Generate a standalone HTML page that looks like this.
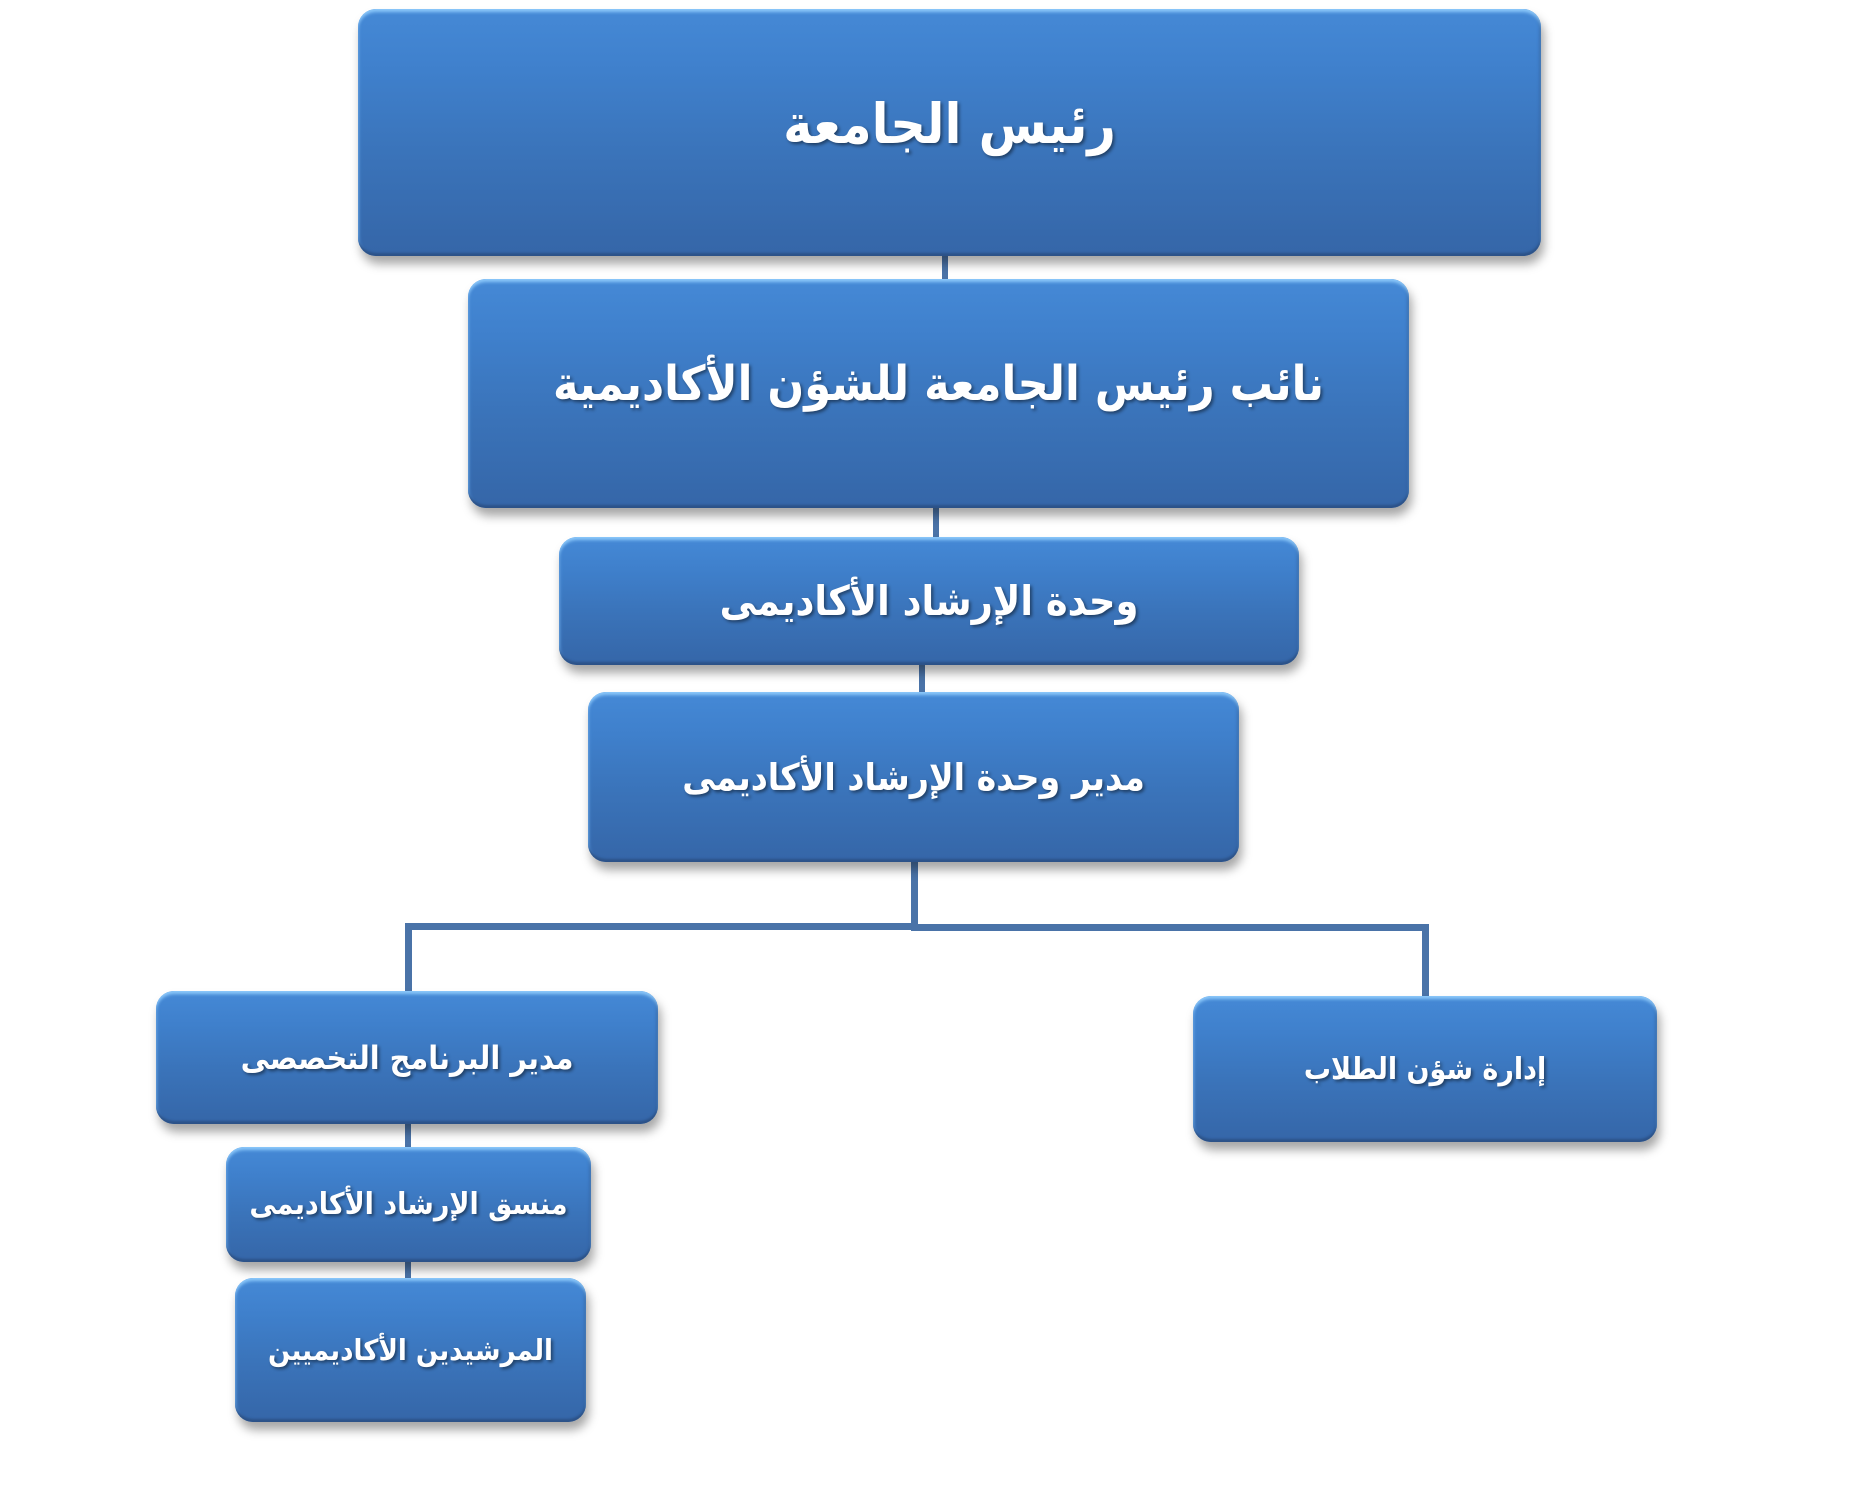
<!DOCTYPE html>
<html><head><meta charset="utf-8"><style>
body{margin:0;width:1861px;height:1510px;background:#fff;position:relative;overflow:hidden;font-family:"DejaVu Sans Condensed","DejaVu Sans","Liberation Sans",sans-serif}
.b{position:absolute;box-sizing:border-box;border-radius:18px;background:linear-gradient(#4589d6 0%,#3f80cc 25%,#3a73b9 60%,#3566a8 100%);
box-shadow:inset 0 4px 3px -1px #8cc8fa,inset 0 -4px 2px -1px #2c5288,inset 3px 0 3px -2px #5c9be0,inset -3px 0 3px -2px #2f5c98,3px 8px 10px rgba(0,0,0,.35);
color:#fff;font-weight:bold;display:flex;align-items:center;justify-content:center;text-shadow:2px 2px 3px rgba(0,0,0,.45);direction:rtl;white-space:nowrap}
.l{position:absolute;background:#4a73a8}
</style></head><body>
<div class="l" style="left:942px;top:256px;width:6px;height:24px"></div>
<div class="l" style="left:933px;top:508px;width:6px;height:30px"></div>
<div class="l" style="left:919px;top:665px;width:6px;height:28px"></div>
<div class="l" style="left:911px;top:862px;width:7px;height:68px"></div>
<div class="l" style="left:405px;top:923px;width:512px;height:7px"></div>
<div class="l" style="left:911px;top:924px;width:518px;height:7px"></div>
<div class="l" style="left:405px;top:923px;width:7px;height:70px"></div>
<div class="l" style="left:1422px;top:924px;width:7px;height:74px"></div>
<div class="l" style="left:405px;top:1124px;width:6px;height:24px"></div>
<div class="l" style="left:405px;top:1262px;width:6px;height:17px"></div>

<div class="b" style="left:358px;top:9px;width:1183px;height:247px;font-size:55px;padding-bottom:18px">رئيس الجامعة</div>
<div class="b" style="left:468px;top:279px;width:941px;height:229px;font-size:48px;padding-bottom:20px">نائب رئيس الجامعة للشؤن الأكاديمية</div>
<div class="b" style="left:559px;top:537px;width:740px;height:128px;font-size:41px">وحدة الإرشاد الأكاديمى</div>
<div class="b" style="left:588px;top:692px;width:651px;height:170px;font-size:37px">مدير وحدة الإرشاد الأكاديمى</div>
<div class="b" style="left:156px;top:991px;width:502px;height:133px;font-size:32px">مدير البرنامج التخصصى</div>
<div class="b" style="left:1193px;top:996px;width:464px;height:146px;font-size:30px">إدارة شؤن الطلاب</div>
<div class="b" style="left:226px;top:1147px;width:365px;height:115px;font-size:30px">منسق الإرشاد الأكاديمى</div>
<div class="b" style="left:235px;top:1278px;width:351px;height:144px;font-size:29px">المرشيدين الأكاديميين</div>
</body></html>
